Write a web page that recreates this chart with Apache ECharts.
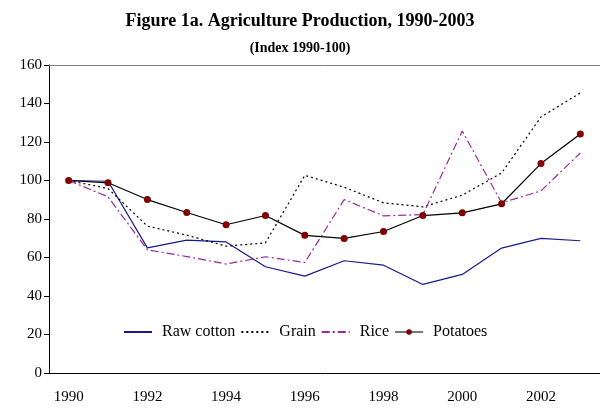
<!DOCTYPE html>
<html>
<head>
<meta charset="utf-8">
<script src="https://cdn.jsdelivr.net/npm/echarts@6/dist/echarts.min.js"></script>
<style>
  html, body { margin: 0; padding: 0; background: #fff; }
  #chart { width: 600px; height: 408px; }
</style>
</head>
<body>
<div id="chart"></div>
<script>
var years = ["1990", "1991", "1992", "1993", "1994", "1995", "1996",
             "1997", "1998", "1999", "2000", "2001", "2002", "2003"];
var rawCotton = [100, 99.6, 65, 69, 68.1, 55.2, 50.3, 58.3, 56, 46, 51.2, 64.9, 69.9, 68.7];
var grain = [100, 95.8, 76.3, 71.6, 65.9, 67.6, 102.7, 96.5, 88.4, 86.3, 92.4, 103.9, 133, 145.5];
var rice = [100, 91.5, 64, 60.5, 56.6, 60.4, 57.4, 90.1, 81.6, 82.3, 125.7, 88.4, 94.6, 114.3];
var potatoes = [100, 98.8, 90.1, 83.4, 77, 81.8, 71.5, 69.9, 73.5, 81.8, 83.2, 87.9, 108.8, 124.2];

var font = "Liberation Serif";

var myChart = echarts.init(document.getElementById("chart"));

// legend: plain lines, only Potatoes keeps its dot
var noDot = { opacity: 0 };

var option = {
  animation: false,
  textStyle: { fontFamily: font },
  title: [
    {
      text: "Figure 1a. Agriculture Production, 1990-2003",
      left: "center",
      top: 7,
      textStyle: { fontFamily: font, fontSize: 18, fontWeight: "bold", color: "#000" }
    },
    {
      text: "(Index 1990-100)",
      left: "center",
      top: 36,
      textStyle: { fontFamily: font, fontSize: 14, fontWeight: "bold", color: "#000" }
    }
  ],
  legend: {
    left: 118,
    top: 319,
    itemWidth: 28,
    itemHeight: 7,
    itemGap: 5,
    textStyle: { fontFamily: font, fontSize: 16, color: "#000", padding: [0, 0, 0, 5] },
    data: [
      { name: "Raw cotton", itemStyle: noDot },
      { name: "Grain", itemStyle: noDot },
      { name: "Rice", itemStyle: noDot },
      { name: "Potatoes", lineStyle: { color: "#777" } }
    ]
  },
  grid: { left: 49, right: -4, top: 65, bottom: 35 },
  xAxis: [
    {
      type: "category",
      data: years,
      boundaryGap: true,
      axisLine: { lineStyle: { color: "#000", width: 1 } },
      axisTick: { interval: 0, length: 5, lineStyle: { color: "#000" } },
      axisLabel: { interval: 1, margin: 17, fontFamily: font, fontSize: 15, color: "#000" }
    },
    {
      type: "category",
      data: years,
      position: "top",
      axisLine: { lineStyle: { color: "#808080", width: 1 } },
      axisTick: { show: false },
      axisLabel: { show: false }
    }
  ],
  yAxis: {
    type: "value",
    min: 0,
    max: 160,
    interval: 20,
    axisLine: { show: true, lineStyle: { color: "#000", width: 1 } },
    axisTick: { show: true, length: 5, lineStyle: { color: "#000" } },
    axisLabel: { margin: 7, fontFamily: font, fontSize: 15, color: "#000" },
    splitLine: { show: false }
  },
  series: [
    {
      name: "Raw cotton",
      type: "line",
      data: rawCotton,
      symbol: "none",
      color: "#1a1a8c",
      lineStyle: { color: "#1a1a8c", width: 1.2 }
    },
    {
      name: "Grain",
      type: "line",
      data: grain,
      symbol: "none",
      color: "#000",
      lineStyle: { color: "#000", width: 1.2, type: [2, 3] }
    },
    {
      name: "Rice",
      type: "line",
      data: rice,
      symbol: "none",
      color: "#9a2a9a",
      lineStyle: { color: "#9a2a9a", width: 1.2, type: [8, 3, 2, 3] }
    },
    {
      name: "Potatoes",
      type: "line",
      data: potatoes,
      symbol: "circle",
      symbolSize: 7,
      itemStyle: { color: "#800000" },
      lineStyle: { color: "#000", width: 1.2 }
    }
  ]
};

myChart.setOption(option);
</script>
</body>
</html>
